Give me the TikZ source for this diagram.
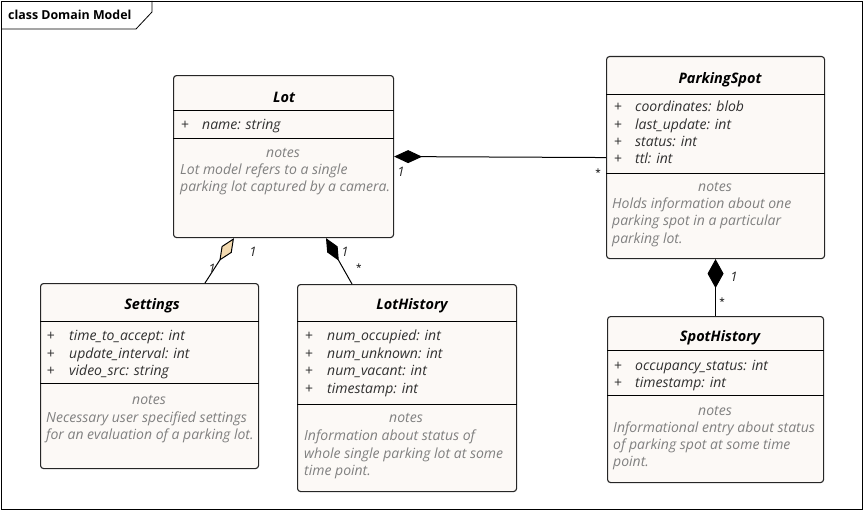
\documentclass[tikz,border=0pt]{standalone}
\usepackage{fontspec}
\setmainfont{Open Sans}
\usetikzlibrary{arrows.meta,calc}
\definecolor{boxfill}{HTML}{FCF9F6}
\definecolor{notegray}{HTML}{808080}
\definecolor{attrcol}{HTML}{303030}
\definecolor{aggfill}{HTML}{F3DAB0}
\begin{document}
\begin{tikzpicture}[x=1pt,y=-1pt,
  frame/.style={draw=black, line width=0.8pt, anchor=north west, inner sep=0pt},
  classbox/.style={draw=black!85, line width=1.1pt, fill=boxfill, rounded corners=3pt, anchor=north west, inner sep=0pt},
  sepline/.style={draw=black, line width=0.9pt},
  ttl/.style={font=\fontsize{14.5}{16}\selectfont\bfseries\itshape, inner sep=0pt},
  attr/.style={font=\fontsize{14}{16}\selectfont\itshape, text=attrcol, anchor=west, inner sep=0pt, text height=10pt, text depth=3pt},
  plus/.style={font=\fontsize{14}{16}\selectfont, text=attrcol, inner sep=0pt, text height=10pt, text depth=3pt},
  nhead/.style={font=\fontsize{14}{16}\selectfont\itshape, text=notegray, inner sep=0pt, text height=10pt, text depth=3pt},
  ntext/.style={font=\fontsize{14}{16}\selectfont\itshape, text=notegray, anchor=west, inner sep=0pt, text height=10pt, text depth=3pt},
  mult/.style={font=\fontsize{13}{15}\selectfont\itshape, text=black!85, inner sep=0pt},
  star/.style={font=\fontsize{10}{12}\selectfont, text=black, inner sep=0pt},
  conn/.style={draw=black, line width=1pt},
  comp/.style={conn, {Diamond[length=#1, width=13pt, fill=black]}-},
  agg/.style={conn, {Diamond[length=27pt, width=12pt, fill=aggfill]}-}
]
\useasboundingbox (0,0) rectangle (864,511);
% frame and tab
\node[frame, minimum width=861pt, minimum height=508pt] (frm) at (1,1) {};
\draw[line width=0.8pt] (1,29) -- (136,29) -- (152,12) -- (152,1);
\node[font=\fontsize{12.4}{14}\selectfont\bfseries, anchor=west, inner sep=0pt] (tab) at (8,15) {class Domain Model};

% Lot
\node[classbox, minimum width=220pt, minimum height=162pt] (lot) at (173,75) {};
\draw[sepline] ($(lot.north west)+(0,35)$) -- ($(lot.north east)+(0,35)$);
\draw[sepline] ($(lot.north west)+(0,63)$) -- ($(lot.north east)+(0,63)$);
\node[ttl] (lott) at (284,97) {Lot};
\node[plus] (lotp1) at (185,126) {+};
\node[attr] (lota1) at (202,126) {name: string};
\node[nhead] (lotn) at (283,154) {notes};
\node[ntext] (lotn1) at (180,171) {Lot model refers to a single};
\node[ntext] (lotn2) at (180,188) {parking lot captured by a camera.};

% ParkingSpot
\node[classbox, minimum width=218pt, minimum height=202pt] (ps) at (606,56) {};
\draw[sepline] ($(ps.north west)+(0,38)$) -- ($(ps.north east)+(0,38)$);
\draw[sepline] ($(ps.north west)+(0,117)$) -- ($(ps.north east)+(0,117)$);
\node[ttl] (pst) at (720,80) {ParkingSpot};
\node[plus] (psp1) at (618,108) {+};
\node[attr] (psa1) at (635,108) {coordinates: blob};
\node[plus] (psp2) at (618,126) {+};
\node[attr] (psa2) at (635,126) {last\_update: int};
\node[plus] (psp3) at (618,143) {+};
\node[attr] (psa3) at (635,143) {status: int};
\node[plus] (psp4) at (618,160) {+};
\node[attr] (psa4) at (635,160) {ttl: int};
\node[nhead] (psn) at (715,188) {notes};
\node[ntext] (psn1) at (612,205) {Holds information about one};
\node[ntext] (psn2) at (612,222) {parking spot in a particular};
\node[ntext] (psn3) at (612,240) {parking lot.};

% Settings
\node[classbox, minimum width=218pt, minimum height=185pt] (set) at (40,283) {};
\draw[sepline] ($(set.north west)+(0,38)$) -- ($(set.north east)+(0,38)$);
\draw[sepline] ($(set.north west)+(0,100)$) -- ($(set.north east)+(0,100)$);
\node[ttl] (sett) at (152,306) {Settings};
\node[plus] (setp1) at (51,337) {+};
\node[attr] (seta1) at (69,337) {time\_to\_accept: int};
\node[plus] (setp2) at (51,355) {+};
\node[attr] (seta2) at (69,355) {update\_interval: int};
\node[plus] (setp3) at (51,372) {+};
\node[attr] (seta3) at (69,372) {video\_src: string};
\node[nhead] (setn) at (149,401) {notes};
\node[ntext] (setn1) at (46,419) {Necessary user specified settings};
\node[ntext] (setn2) at (46,436) {for an evaluation of a parking lot.};

% LotHistory
\node[classbox, minimum width=219pt, minimum height=207pt] (lh) at (297,284) {};
\draw[sepline] ($(lh.north west)+(0,37)$) -- ($(lh.north east)+(0,37)$);
\draw[sepline] ($(lh.north west)+(0,120)$) -- ($(lh.north east)+(0,120)$);
\node[ttl] (lht) at (412,306) {LotHistory};
\node[plus] (lhp1) at (309,337) {+};
\node[attr] (lha1) at (327,337) {num\_occupied: int};
\node[plus] (lhp2) at (309,355) {+};
\node[attr] (lha2) at (327,355) {num\_unknown: int};
\node[plus] (lhp3) at (309,372) {+};
\node[attr] (lha3) at (327,372) {num\_vacant: int};
\node[plus] (lhp4) at (309,390) {+};
\node[attr] (lha4) at (327,390) {timestamp: int};
\node[nhead] (lhn) at (406,419) {notes};
\node[ntext] (lhn1) at (304,437) {Information about status of};
\node[ntext] (lhn2) at (304,455) {whole single parking lot at some};
\node[ntext] (lhn3) at (304,472) {time point.};

% SpotHistory
\node[classbox, minimum width=216pt, minimum height=166pt] (sh) at (607,316) {};
\draw[sepline] ($(sh.north west)+(0,34)$) -- ($(sh.north east)+(0,34)$);
\draw[sepline] ($(sh.north west)+(0,79)$) -- ($(sh.north east)+(0,79)$);
\node[ttl] (sht) at (720,338) {SpotHistory};
\node[plus] (shp1) at (618,367) {+};
\node[attr] (sha1) at (635,367) {occupancy\_status: int};
\node[plus] (shp2) at (618,384) {+};
\node[attr] (sha2) at (635,384) {timestamp: int};
\node[nhead] (shn) at (715,412) {notes};
\node[ntext] (shn1) at (613,429) {Informational entry about status};
\node[ntext] (shn2) at (613,446) {of parking spot at some time};
\node[ntext] (shn3) at (613,463) {point.};

% connectors
\draw[comp=28pt] (lot.east) -- (ps.west);
\node[mult] (m1) at (401,172) {1};
\node[star] (m2) at (598,173) {*};

\draw[conn, {Diamond[length=29pt,width=16pt,fill=black]}-] (ps.south) -- (sh.north);
\node[mult] (m3) at (734,277) {1};
\node[star] (m4) at (722,302) {*};

\draw[agg] ($(lot.south west)+(61,0)$) -- ($(set.north west)+(165,0)$);
\node[mult] (m5) at (253,252) {1};
\node[mult] (m6) at (212,269) {1};

\draw[conn, {Diamond[length=26pt,width=12pt,fill=black]}-] ($(lot.south west)+(153,0)$) -- ($(lh.north west)+(55,0)$);
\node[mult] (m7) at (345,252) {1};
\node[star] (m8) at (359,268) {*};
\end{tikzpicture}
\end{document}
